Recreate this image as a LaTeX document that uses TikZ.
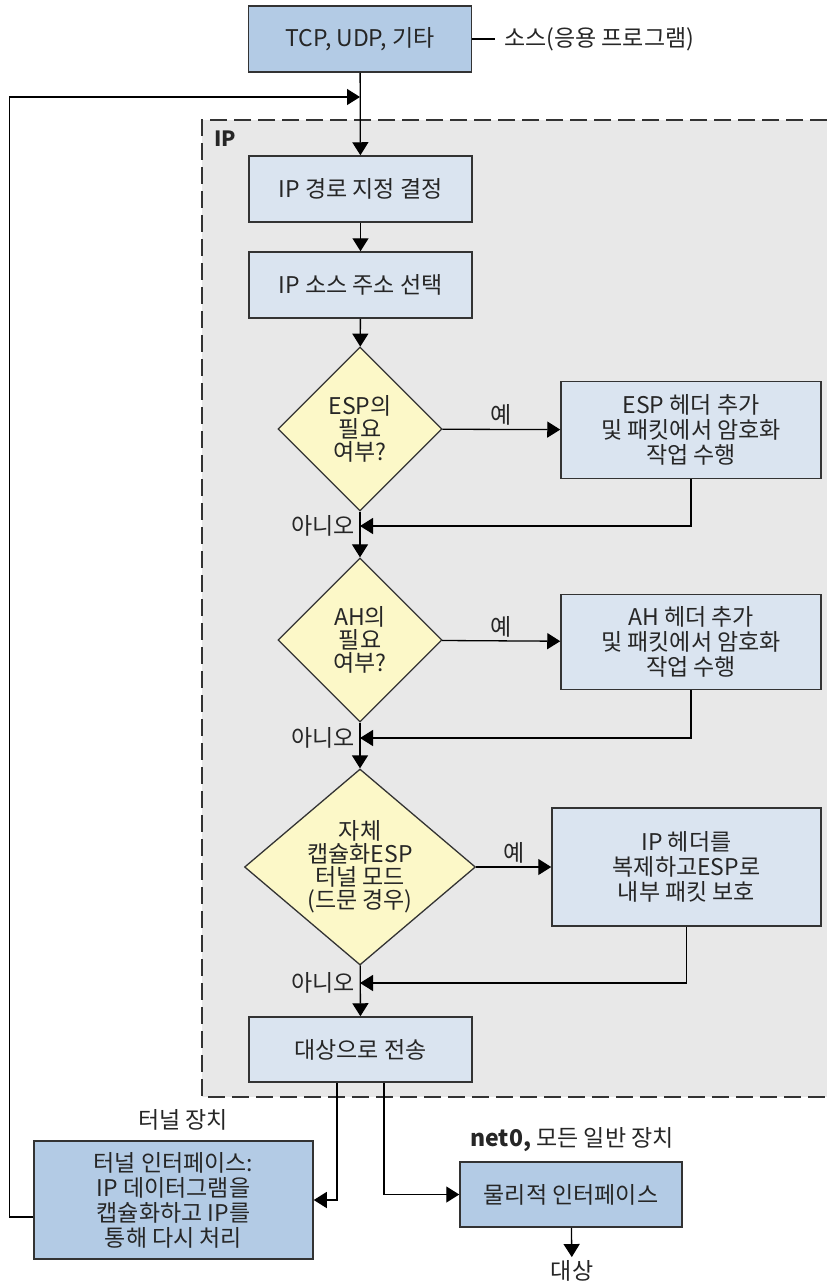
\documentclass[tikz,border=0pt]{standalone}
\usepackage{fontspec}
\setmainfont{Noto Sans CJK KR}
\usetikzlibrary{shapes.geometric, arrows.meta, positioning}

\definecolor{panelgray}{HTML}{E8E8E8}
\definecolor{boxblue}{HTML}{DAE4F0}
\definecolor{darkblue}{HTML}{B3CBE5}
\definecolor{decyellow}{HTML}{FCF8C8}
\definecolor{edgegray}{HTML}{333333}

\begin{document}
\begin{tikzpicture}[x=1pt, y=-1pt, >={Triangle[length=13pt,width=16pt]},
    every node/.style={font=\fontsize{23}{25}\selectfont, text=black!85},
    box/.style={draw=edgegray, line width=1.5pt, fill=boxblue, align=center,
        minimum width=223pt, minimum height=66pt, inner sep=2pt},
    darkbox/.style={box, fill=darkblue},
    decision/.style={diamond, draw=edgegray, line width=1.3pt, fill=decyellow, align=center,
        font=\fontsize{23}{23}\selectfont,
        inner sep=0pt, minimum width=164pt, minimum height=164pt},
    flow/.style={->, line width=1.3pt},
    lbl/.style={inner sep=3pt}]
    \useasboundingbox (0,0) rectangle (827,1283);

    % === IP 영역 (점선 배경) ===
    \fill[panelgray] (202,120) rectangle (827,1097);
    \draw[edgegray, line width=1.5pt, dash pattern=on 17pt off 7pt]
        (827,120) -- (202,120) -- (202,1097) -- (827,1097);
    \node[anchor=west, font=\fontsize{21}{24}\selectfont\bfseries] (iplbl) at (211,139) {IP};

    % === 소스 ===
    \node[darkbox] (tcp) at (360,39) {TCP, UDP, 기타};
    \node[anchor=west, inner sep=9pt] (srclbl) at (495,39) {소스(응용 프로그램)};
    \draw[line width=1.3pt] (tcp.east) -- (srclbl.west);

    % === IP 처리 단계 ===
    \node[box] (route) at (360.5,189) {IP 경로 지정 결정};
    \node[box] (srcaddr) at (360.5,285) {IP 소스 주소 선택};

    \node[decision] (espq) at (360,429) {ESP의\\필요\\여부?};
    \node[box, minimum width=260pt, minimum height=97pt] (esp) at (691,430)
        {ESP 헤더 추가\\및 패킷에서 암호화\\작업 수행};

    \node[decision] (ahq) at (360,640) {AH의\\필요\\여부?};
    \node[box, minimum width=260pt, minimum height=95pt] (ah) at (691,642)
        {AH 헤더 추가\\및 패킷에서 암호화\\작업 수행};

    \node[decision, aspect=1.18, minimum width=231pt, minimum height=196pt] (tunq) at (360,867)
        {자체\\캡슐화ESP\\터널 모드\\(드문 경우)};
    \node[box, minimum width=269pt, minimum height=118pt] (iphdr) at (686.5,867)
        {IP 헤더를\\복제하고ESP로\\내부 패킷 보호};

    \node[box, minimum height=65pt] (send) at (360.5,1049.5) {대상으로 전송};

    % === 인터페이스 ===
    \node (tunlbl) at (183,1120) {터널 장치};
    \node[darkbox, minimum width=279pt, minimum height=118pt] (tunnel) at (173.5,1200)
        {터널 인터페이스:\\IP 데이터그램을\\캡슐화하고 IP를\\통해 다시 처리};
    \node (netlbl) at (572,1140) {\textbf{net0,} 모든 일반 장치};
    \node[darkbox, minimum width=222pt, minimum height=65pt] (phys) at (571,1194.5) {물리적 인터페이스};
    \node (dest) at (572,1271) {대상};

    % === 연결선 ===
    \coordinate (join) at (360,97);
    \coordinate (no1) at (360,526);
    \coordinate (no2) at (360,738);
    \coordinate (no3) at (360,983);

    \draw[flow] (tcp) -- (route);
    \draw[flow] ([yshift=-17pt]tunnel.west) -- ++(-24,0) |- (join);
    \draw[flow] (route) -- (srcaddr);
    \draw[flow] (srcaddr) -- (espq);

    \draw[flow] (espq) -- node[lbl, above] (yes1) {예} (esp);
    \draw[flow] (espq) -- (ahq);
    \draw[flow] (esp.south) |- (no1);
    \node[lbl, left=2pt of no1] (nolbl1) {아니오};

    \draw[flow] (ahq) -- node[lbl, above] (yes2) {예} (ah);
    \draw[flow] (ahq) -- (tunq);
    \draw[flow] (ah.south) |- (no2);
    \node[lbl, left=2pt of no2] (nolbl2) {아니오};

    \draw[flow] (tunq) -- node[lbl, above] (yes3) {예} (iphdr);
    \draw[flow] (tunq) -- (send);
    \draw[flow] (iphdr.south) |- (no3);
    \node[lbl, left=2pt of no3] (nolbl3) {아니오};

    \draw[flow] ([xshift=-23.5pt]send.south) |- (tunnel.east);
    \draw[flow] ([xshift=23.5pt]send.south) |- (phys.west);
    \draw[flow] (phys) -- (dest);
\end{tikzpicture}
\end{document}
